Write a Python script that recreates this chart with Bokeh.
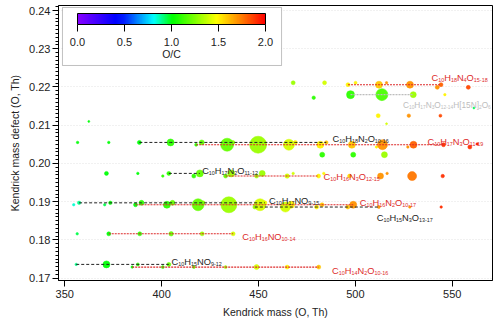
import colorsys
from bokeh.plotting import figure
from bokeh.models import (ColumnDataSource, LinearColorMapper, ColorBar, FixedTicker,
                          SingleIntervalTicker, PrintfTickFormatter, BoxAnnotation, Label, Range1d)
from bokeh.core.properties import value, field
from bokeh.embed import file_html
from bokeh.resources import INLINE

FONT = "Liberation Sans"

# ---------------- data ----------------
# connected series: Kendrick mass (x), Kendrick mass defect (y), O/C, marker size
sA_x = [496.2, 512.2, 528.2, 544.2]            # C10H18N4O15-18
sA_y = [0.2206, 0.2206, 0.2206, 0.2206]
sA_oc = [1.5, 1.6, 1.7, 1.8]
sA_s = [4, 7, 7, 4]

sB_x = [497.5, 513.7, 529.9]                   # C10H17N3O12-14H[15N]2O6
sB_y = [0.2180, 0.2180, 0.2180]
sB_oc = [1.1, 1.15, 1.3]
sB_s = [8, 12, 6]

sC_x = [388.5, 404.6, 420.7, 436.8, 452.9, 469.0, 485.0]   # C10H18N2O10-16
sC_y = [0.2055] * 7
sC_oc = [1.0, 1.1, 1.2, 1.3, 1.4, 1.5, 1.6]
sC_s = [4, 7, 5, 4, 4, 4, 3.5]

sD_x = [417.8, 433.8, 449.8, 465.7, 481.9, 498.2, 514.0, 530.0, 545.5]  # C10H17N3O11-19
sD_y = [0.2049] * 9
sD_oc = [1.1, 1.2, 1.3, 1.4, 1.5, 1.6, 1.7, 1.8, 1.9]
sD_s = [3, 13, 17, 11, 7, 7, 10, 7, 4]

sE_x = [403.7, 419.7]                          # C10H17N2O11-12
sE_y = [0.1974, 0.1974]
sE_oc = [1.1, 1.2]
sE_s = [4, 7]

sF_x = [433.0, 449.0, 464.8, 481.0]            # C10H16N3O12-15
sF_y = [0.1967] * 4
sF_oc = [1.2, 1.3, 1.4, 1.5]
sF_s = [4, 4, 4.5, 4]

sG_x = [357.4, 373.5, 389.6, 405.6, 421.4, 437.3, 453.3]   # C10H17NO9-15
sG_y = [0.1897] * 7
sG_oc = [0.9, 1.0, 1.1, 1.2, 1.3, 1.4, 1.5]
sG_s = [3.5, 3.5, 5, 5, 4, 4, 4]

sH_x = [386.5, 402.7, 418.8, 434.7, 450.8, 466.8, 482.8, 498.9]  # C10H16N2O10-17
sH_y = [0.1892] * 8
sH_oc = [1.0, 1.1, 1.2, 1.3, 1.4, 1.5, 1.6, 1.7]
sH_s = [4, 7, 12, 16, 12, 7, 4, 7]

sI_x = [448.1, 463.9, 480.0, 496.1, 512.1]     # C10H15N3O13-17
sI_y = [0.1886] * 5
sI_oc = [1.3, 1.4, 1.5, 1.6, 1.7]
sI_s = [4, 10, 4, 4, 3]

sJ_x = [372.7, 388.7, 404.9, 420.9, 436.9]     # C10H16NO10-14
sJ_y = [0.1816] * 5
sJ_oc = [1.0, 1.1, 1.2, 1.3, 1.4]
sJ_s = [4, 4, 4.5, 4, 4]

sK_x = [355.9, 371.5, 387.7, 403.7]            # C10H15NO9-12
sK_y = [0.1736] * 4
sK_oc = [0.9, 1.0, 1.1, 1.2]
sK_s = [2.5, 7, 3, 4]

sL_x = [384.8, 400.6, 416.6, 433.0, 449.0, 464.8, 481.1]   # C10H14N2O10-16
sL_y = [0.1729] * 7
sL_oc = [1.0, 1.1, 1.2, 1.3, 1.4, 1.5, 1.6]
sL_s = [2.5, 3, 3, 3, 5, 4, 4]

# unconnected points
o_x = [467.9, 484.1, 500.1, 516.1, 542.3, 558.3, 478.5, 546.2, 561.2, 511.8, 527.6, 543.9,
       516.1, 362.4, 356.6, 372.7, 510.9, 527.1, 559.1, 562.9, 482.9, 498.9, 515.0,
       371.5, 387.7, 435.9, 451.9, 467.9, 483.7, 516.4,
       400.6, 416.6, 497.0, 513.0, 529.3, 545.1,
       354.6, 370.6, 528.1, 544.3, 356.4]
o_y = [0.2211, 0.2211, 0.2211, 0.2211, 0.2199, 0.2199, 0.2172, 0.2180, 0.2145, 0.2125, 0.2125, 0.2125,
       0.2104, 0.2110, 0.2055, 0.2055, 0.2043, 0.2043, 0.2043, 0.2051, 0.2023, 0.2023, 0.2023,
       0.1974, 0.1974, 0.1974, 0.1974, 0.1974, 0.1974, 0.1974,
       0.1967, 0.1967, 0.1967, 0.1967, 0.1967, 0.1967,
       0.1892, 0.1892, 0.1886, 0.1886, 0.1816]
o_oc = [1.3, 1.4, 1.5, 1.7, 1.7, 1.85, 1.1, 1.5, 0.95, 1.5, 1.7, 1.85,
        1.4, 1.0, 1.0, 1.0, 1.5, 1.7, 1.9, 1.95, 1.1, 1.1, 1.3,
        1.0, 1.0, 1.3, 1.3, 1.4, 1.5, 1.7,
        1.1, 1.1, 1.55, 1.7, 1.75, 1.9,
        0.85, 0.95, 1.7, 1.9, 0.95]
o_s = [4, 4, 3, 2.5, 4, 4, 3.5, 2.5, 2, 4, 3.5, 3,
       2, 2, 2.5, 2.5, 2.5, 2.5, 4, 2.5, 5, 5, 6,
       4, 2.5, 7, 6, 2.5, 2.5, 2.5,
       2.5, 4, 4, 6, 9, 3.5,
       2.5, 2.5, 2.5, 2.5, 2.5]

# series labels (digits / ranges outside brackets are drawn as subscripts)
lab_text = ["C10H18N4O15-18", "C10H17N3O12-14H[15N]2O6", "C10H18N2O10-16", "C10H17N3O11-19",
            "C10H17N2O11-12", "C10H16N3O12-15", "C10H17NO9-15", "C10H16N2O10-17",
            "C10H15N3O13-17", "C10H16NO10-14", "C10H15NO9-12", "C10H14N2O10-16"]
lab_x = [539.3, 524.6, 488.2, 537.2, 420.9, 483.6, 455.4, 502.3, 511.0, 441.6, 405.1, 488.0]
lab_y = [0.2231, 0.2162, 0.2074, 0.2065, 0.1990, 0.1974, 0.1910, 0.1906, 0.1866, 0.1817, 0.1751, 0.1727]

cbar_ticks = [0.0, 0.5, 1.0, 1.5, 2.0]

# ---------------- styling ----------------
RED = "#dd2a2a"
BLACK = "#222222"
GREY = "#bdbdbd"
lab_color = [RED, GREY, BLACK, RED, BLACK, RED, BLACK, RED, BLACK, RED, BLACK, RED]
lab_main = [9.3, 8.3, 9.3, 9.3, 9.3, 9.3, 9.3, 9.3, 9.3, 9.3, 9.3, 9.3]

# rainbow palette (purple -> blue -> cyan -> green -> yellow -> red)
hue_anchor = [(0.0, 272.0), (0.5, 232.0), (0.81, 180.0), (1.0, 122.0), (1.5, 58.0), (2.0, 0.0)]
def hue_at(v):
    for (v0, h0), (v1, h1) in zip(hue_anchor[:-1], hue_anchor[1:]):
        if v <= v1:
            return h0 + (h1 - h0) * (v - v0) / (v1 - v0)
    return hue_anchor[-1][1]
palette = []
for i in range(256):
    r, g, b = colorsys.hsv_to_rgb(hue_at(2.0 * i / 255) / 360.0, 1.0, 1.0)
    palette.append("#%02x%02x%02x" % (int(r * 255), int(g * 255), int(b * 255)))
mapper = LinearColorMapper(palette=palette, low=0.0, high=2.0)

p = figure(width=500, height=323, output_backend="svg", toolbar_location=None,
           x_range=Range1d(346.75, 570.8), y_range=Range1d(0.16939, 0.24131),
           min_border_left=58, min_border_right=8, min_border_top=5, min_border_bottom=43)
p.outline_line_color = "black"
p.outline_line_width = 1
p.background_fill_color = "white"

p.xgrid.grid_line_color = None
p.ygrid.grid_line_color = "#e2e2e2"
p.ygrid.grid_line_dash = "1 2"

p.yaxis.ticker = SingleIntervalTicker(interval=0.01, num_minor_ticks=10)
p.xaxis.ticker = SingleIntervalTicker(interval=50, num_minor_ticks=0)
p.yaxis.formatter = PrintfTickFormatter(format="%.2f")
for ax in (p.xaxis, p.yaxis):
    ax.major_tick_in = 0
    ax.major_tick_out = 6
    ax.minor_tick_in = 0
    ax.minor_tick_out = 3
    ax.axis_line_color = "black"
    ax.major_tick_line_color = "black"
    ax.minor_tick_line_color = "black"
    ax.major_label_text_font = FONT
    ax.major_label_text_font_size = "11px"
    ax.major_label_text_color = "#222222"
    ax.axis_label_text_font = FONT
    ax.axis_label_text_font_size = "10.5px"
    ax.axis_label_text_font_style = "normal"
    ax.axis_label_text_color = "#222222"
p.xaxis.axis_label = "Kendrick mass (O, Th)"
p.yaxis.axis_label = "Kendrick mass defect (O, Th)"
p.xaxis.major_label_standoff = 3
p.yaxis.major_label_standoff = 2
p.xaxis.axis_label_standoff = 5
p.yaxis.axis_label_standoff = 5

series = [
    (sA_x, sA_y, sA_oc, sA_s, RED, "2 1", 1.1),
    (sB_x, sB_y, sB_oc, sB_s, GREY, "2 1", 1.4),
    (sC_x, sC_y, sC_oc, sC_s, BLACK, "3 2", 1.0),
    (sD_x, sD_y, sD_oc, sD_s, RED, "2 1", 1.1),
    (sE_x, sE_y, sE_oc, sE_s, BLACK, "3 2", 1.0),
    (sF_x, sF_y, sF_oc, sF_s, RED, "2 1", 1.1),
    (sG_x, sG_y, sG_oc, sG_s, BLACK, "3 2", 1.0),
    (sH_x, sH_y, sH_oc, sH_s, RED, "2 1", 1.1),
    (sI_x, sI_y, sI_oc, sI_s, BLACK, "3 2", 1.0),
    (sJ_x, sJ_y, sJ_oc, sJ_s, RED, "2 1", 1.1),
    (sK_x, sK_y, sK_oc, sK_s, BLACK, "3 2", 1.0),
    (sL_x, sL_y, sL_oc, sL_s, RED, "2 1", 1.1),
]

cmap = {"field": "oc", "transform": mapper}
p.scatter(x="x", y="y", size="s", source=ColumnDataSource(dict(x=o_x, y=o_y, oc=o_oc, s=o_s)),
          fill_color=cmap, line_color=cmap, line_width=0.5, fill_alpha=0.95)
for xs, ys, ocs, ss, col, dash, lw in series:
    p.scatter(x="x", y="y", size="s", source=ColumnDataSource(dict(x=xs, y=ys, oc=ocs, s=ss)),
              fill_color=cmap, line_color=cmap, line_width=0.5, fill_alpha=0.95)
for xs, ys, ocs, ss, col, dash, lw in series:
    p.line(xs, ys, line_color=col, line_dash=dash, line_width=lw)

# chemical-formula labels: normal letters + subscript numbers (Arial/Liberation metrics)
WID = {"C": 0.722, "H": 0.722, "N": 0.722, "O": 0.778, "-": 0.333, "[": 0.278, "]": 0.278}
for d in "0123456789":
    WID[d] = 0.556
parts = dict(x=[], y=[], t=[], c=[], xo=[], yo=[], fs=[])
for t, x, y, c, m in zip(lab_text, lab_x, lab_y, lab_color, lab_main):
    sub_size = m * 0.58
    pieces, inbr = [], False
    for ch in t:
        if ch == "[":
            inbr = True
        sub = (ch.isdigit() or ch == "-") and not inbr
        if ch == "]":
            inbr = False
        if pieces and pieces[-1][1] == sub:
            pieces[-1][0] += ch
        else:
            pieces.append([ch, sub])
    off = 0.0
    for s, sub in pieces:
        f = sub_size if sub else m
        parts["x"].append(x); parts["y"].append(y); parts["t"].append(s); parts["c"].append(c)
        parts["xo"].append(off); parts["yo"].append(m * 0.36 + (2.0 if sub else 0.0))
        parts["fs"].append("%.1fpx" % f)
        off += sum(WID[ch] for ch in s) * f
p.text(x="x", y="y", text="t", x_offset="xo", y_offset="yo", source=ColumnDataSource(parts),
       text_color="c", text_font=value(FONT), text_font_size=field("fs"),
       text_align="left", text_baseline="alphabetic")

# colour-scale box
box = BoxAnnotation(left=348.8, right=461.9, top=0.24079, bottom=0.22562,
                    fill_color="white", fill_alpha=1.0, line_color="#333333", line_width=1)
p.add_layout(box)
cb = ColorBar(color_mapper=mapper, orientation="horizontal", location=(19, 232),
              width=188, height=11, padding=0, margin=0,
              ticker=FixedTicker(ticks=cbar_ticks), formatter=PrintfTickFormatter(format="%.1f"),
              major_tick_in=0, major_tick_out=7, major_tick_line_color="black",
              minor_tick_line_color=None, bar_line_color="black",
              border_line_color=None, background_fill_color=None, background_fill_alpha=0,
              label_standoff=6, major_label_text_font=FONT, major_label_text_font_size="11px",
              major_label_text_color="#222222")
p.add_layout(cb, "center")
p.add_layout(Label(x=405.1, y=0.2285, text="O/C", text_font=FONT, text_font_size="10.5px",
                   text_color="#222222", text_align="center", text_baseline="middle"))

open("out.html", "w").write(file_html(p, INLINE))
